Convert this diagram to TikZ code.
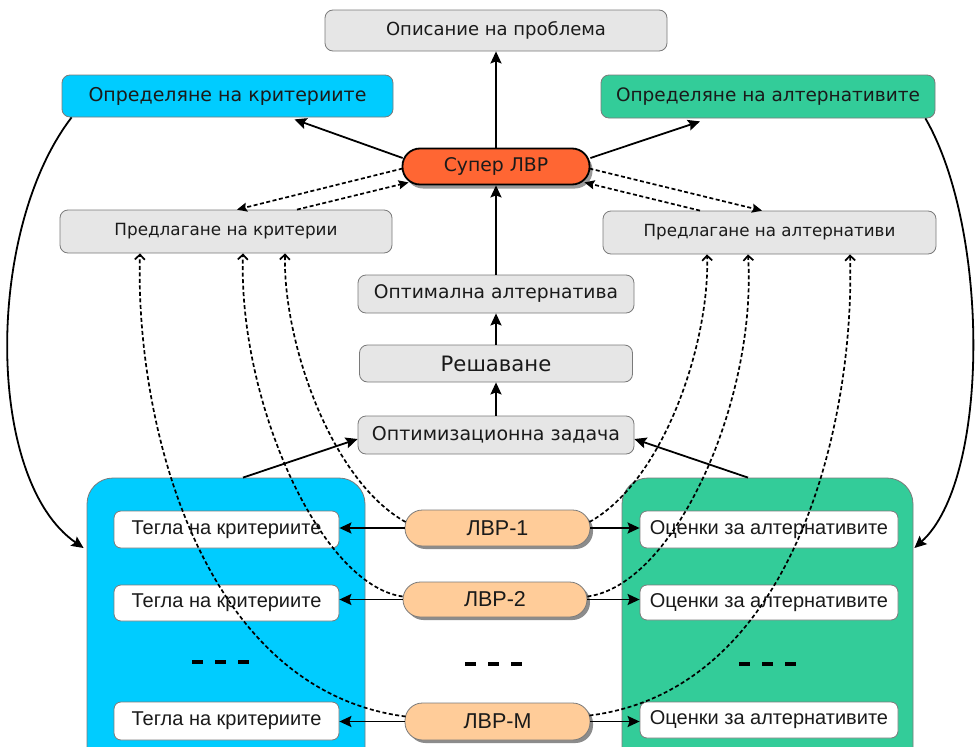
\documentclass[tikz,border=0pt]{standalone}
\usepackage{fontspec}
\setmainfont{DejaVu Sans}
\newfontfamily\arialf{Liberation Sans}
\usetikzlibrary{arrows.meta,calc,shadows}
\definecolor{boxgray}{HTML}{E6E6E6}
\definecolor{cyanbox}{HTML}{00CCFF}
\definecolor{greenbox}{HTML}{33CC99}
\definecolor{superred}{HTML}{FF6633}
\definecolor{lvrfill}{HTML}{FFCC99}
\definecolor{edgegray}{HTML}{7A7A7A}
\definecolor{txt}{HTML}{1A1A1A}
\newcommand{\fsz}[1]{\fontsize{#1}{#1}\selectfont}
\begin{document}
\begin{tikzpicture}[x=1pt,y=-1pt,
  box/.style={draw=edgegray, line width=0.8pt, rounded corners=8pt, inner sep=0pt, text=txt},
  graybox/.style={box, fill=boxgray},
  whitebox/.style={box, fill=white, rounded corners=7pt, font=\arialf\fsz{20}},
  container/.style={draw=edgegray, line width=0.8pt, rounded corners=26pt, inner sep=0pt},
  pill/.style={rounded corners=17.5pt, inner sep=0pt, text=txt},
  lvrnode/.style={pill, fill=lvrfill, draw=edgegray, line width=0.8pt, font=\arialf\fsz{21.5},
     drop shadow={shadow xshift=3pt, shadow yshift=-3pt, fill=black!45, opacity=1}},
  arr/.style={line width=1.8pt, -{Stealth[length=12pt,width=11pt,inset=2pt]}},
  darr/.style={line width=1.7pt, dash pattern=on 4pt off 2.5pt, -{Stealth[length=10pt,width=9pt,inset=1.5pt]}},
  carr/.style={line width=1.7pt, dash pattern=on 4pt off 2.5pt, -{Straight Barb[length=5pt,width=10pt]}},
  dots/.style={line width=4.5pt, dash pattern=on 11pt off 12pt}
]
\clip (0,0) rectangle (978,747);
\fill[white] (0,0) rectangle (978,747);

% containers
\node[container, fill=cyanbox, minimum width=278pt, minimum height=300pt] (lc) at (226,628) {};
\node[container, fill=greenbox, minimum width=291pt, minimum height=300pt] (rc) at (767.5,628) {};

% top nodes
\node[graybox, minimum width=342pt, minimum height=41pt, font=\fsz{18}] (desc) at (496,30.5) {Описание на проблема};
\node[box, fill=cyanbox, minimum width=331pt, minimum height=42pt, font=\fsz{19}] (ck) at (227.5,96) {Определяне на критериите};
\node[box, fill=greenbox, minimum width=334pt, minimum height=43pt, font=\fsz{18.5}] (ca) at (768,96.5) {Определяне на алтернативите};
\node[pill, fill=superred, draw=black, line width=1.8pt, minimum width=187pt, minimum height=36pt, font=\fsz{18.8},
  drop shadow={shadow xshift=3pt, shadow yshift=-4pt, fill=black!40, opacity=1}] (sup) at (496,166.5) {Супер ЛВР};
\node[graybox, minimum width=332pt, minimum height=43pt, font=\fsz{16.8}] (pk) at (226,231.5) {Предлагане на критерии};
\node[graybox, minimum width=333pt, minimum height=43pt, font=\fsz{16.7}] (pa) at (769.5,232.5) {Предлагане на алтернативи};
\node[graybox, minimum width=276pt, minimum height=38pt, font=\fsz{18.7}] (oa) at (496,294) {Оптимална алтернатива};
\node[graybox, minimum width=273pt, minimum height=37pt, font=\fsz{21.2}] (re) at (496,363.5) {Решаване};
\node[graybox, minimum width=276pt, minimum height=38pt, font=\fsz{19}] (oz) at (496,435) {Оптимизационна задача};

% inner boxes
\node[whitebox, minimum width=225pt, minimum height=37pt] (t1) at (226.5,529.5) {Тегла на критериите};
\node[whitebox, minimum width=225pt, minimum height=36pt] (t2) at (226.5,603) {Тегла на критериите};
\node[whitebox, minimum width=225pt, minimum height=38pt] (tm) at (226.5,721) {Тегла на критериите};
\node[whitebox, minimum width=258pt, minimum height=37pt] (o1) at (769,529.5) {Оценки за алтернативите};
\node[whitebox, minimum width=258pt, minimum height=35pt] (o2) at (769,602.5) {Оценки за алтернативите};
\node[whitebox, minimum width=258pt, minimum height=36pt] (om) at (769,720) {Оценки за алтернативите};

% LVR nodes
\node[lvrnode, minimum width=185pt, minimum height=36pt] (l1) at (497.5,528) {ЛВР-1};
\node[lvrnode, minimum width=184pt, minimum height=35pt] (l2) at (495,599.5) {ЛВР-2};
\node[lvrnode, minimum width=185pt, minimum height=37pt] (lm) at (497.5,721.5) {ЛВР-М};

% dots
\coordinate (dl1) at (192,662); \coordinate (dl2) at (250,662);
\coordinate (dc1) at (465,664); \coordinate (dc2) at (523,664);
\coordinate (dr1) at (739,664); \coordinate (dr2) at (797,664);
\draw[dots] (dl1) -- (dl2);
\draw[dots] (dc1) -- (dc2);
\draw[dots] (dr1) -- (dr2);

% vertical chain
\draw[arr] (sup.north) -- (desc.south);
\draw[arr] (oa.north) -- (sup.south);
\draw[arr] (re.north) -- (re.north |- oa.south);
\draw[arr] (oz.north) -- (oz.north |- re.south);

% super to definitions
\draw[arr] ($(sup.west)+(1,-8.5)$) -- ($(ck.south)+(67,2)$);
\draw[arr] ($(sup.east)+(0,-8.5)$) -- ($(ca.south)+(-68,3)$);

% super <-> proposals (dashed)
\draw[darr] ($(sup.west)+(1,2)$) -- ($(pk.north)+(11,0)$);
\draw[darr] ($(pk.north)+(71,0)$) -- ($(sup.south west)+(7,-3)$);
\draw[darr] ($(sup.east)+(-1,2)$) -- ($(pa.north)+(-7.5,0)$);
\draw[darr] ($(pa.north)+(-69.5,0)$) -- ($(sup.south east)+(-6,-3)$);

% definitions to containers
\draw[arr] ($(ck.south west)+(10,0)$) .. controls (-15,230) and (-15,480) .. ($(lc.west)+(-3,-80)$);
\draw[arr] ($(ca.south east)+(-10,0)$) .. controls (990,230) and (990,480) .. ($(rc.east)+(1,-80)$);

% containers to optimisation task
\draw[arr] ($(lc.north)+(17,0)$) -- ($(oz.west)+(0,4)$);
\draw[arr] ($(rc.north)+(-19.5,0)$) -- ($(oz.east)+(0,4)$);

% LVR to inner boxes
\foreach \l/\t/\o in {l1/t1/o1, l2/t2/o2, lm/tm/om}{
  \draw[arr] (\l.west) -- (\l.west -| \t.east);
  \draw[arr] (\l.east) -- (\l.east -| \o.west);
}

% dashed curves to proposals
\draw[carr] ($(l1.west)+(1,-6)$) .. controls (330,480) and (283,340) .. ($(pk.south)+(59,0)$);
\draw[carr] ($(l2.west)+(0,-3)$) .. controls (320,585) and (238,400) .. ($(pk.south)+(17,0)$);
\draw[carr] ($(lm.west)+(1,-5)$) .. controls (200,690) and (135,420) .. ($(pk.south)+(-86,0)$);
\draw[carr] ($(l1.east)+(-1,-6)$) .. controls (665,480) and (710,340) .. ($(pa.south)+(-62.5,0)$);
\draw[carr] ($(l2.east)+(0,-3)$) .. controls (675,585) and (757,400) .. ($(pa.south)+(-21.5,0)$);
\draw[carr] ($(lm.east)+(-1,-6)$) .. controls (795,690) and (855,420) .. ($(pa.south)+(80.5,0)$);
\end{tikzpicture}
\end{document}
